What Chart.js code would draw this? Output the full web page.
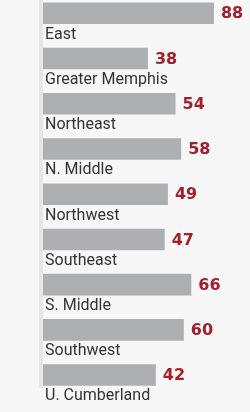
<!DOCTYPE html>
<html lang="en">
<head>
    <meta charset="UTF-8">
    <title>Regions</title>
    <script src="https://cdn.jsdelivr.net/npm/chart.js@4.4.0/dist/chart.umd.min.js"></script>
    <style>
        body {
            margin: 0;
            background-color: #f7f7f7;
        }
        .chart-container {
            width: 250px;
            height: 412px;
            position: relative;
        }
    </style>
</head>
<body>
    <div class="chart-container">
        <canvas id="chart"></canvas>
    </div>

    <script>
        // Data
        const regions = ['East', 'Greater Memphis', 'Northeast', 'N. Middle', 'Northwest',
                         'Southeast', 'S. Middle', 'Southwest', 'U. Cumberland'];
        const counts = [88, 38, 54, 58, 49, 47, 66, 60, 42];
        const axisMin = 10;
        const axisMax = 100;

        const BAR_COLOR = '#aeafb3';
        const VALUE_COLOR = '#a3202b';
        const LABEL_COLOR = '#333333';

        // light grey strip down the left edge
        const stripPlugin = {
            id: 'strip',
            beforeDatasetsDraw(chart) {
                const { ctx, chartArea } = chart;
                const bars = chart.getDatasetMeta(0).data;
                const last = bars[bars.length - 1];
                const bottom = last.y + last.height / 2 + 2;
                ctx.save();
                ctx.fillStyle = '#e6e6e6';
                ctx.fillRect(chartArea.left - 4, 0, 4, bottom);
                ctx.restore();
            }
        };

        // numbers at the end of each bar
        const valuePlugin = {
            id: 'values',
            afterDatasetsDraw(chart) {
                const { ctx } = chart;
                const meta = chart.getDatasetMeta(0);
                ctx.save();
                ctx.font = 'bold 16px "DejaVu Sans"';
                ctx.fillStyle = VALUE_COLOR;
                ctx.textAlign = 'left';
                ctx.textBaseline = 'middle';
                meta.data.forEach((bar, i) => {
                    ctx.fillText(String(counts[i]), bar.x + 7, bar.y + 1);
                });
                ctx.restore();
            }
        };

        new Chart(document.getElementById('chart'), {
            type: 'bar',
            data: {
                labels: regions,
                datasets: [
                    {
                        data: counts,
                        backgroundColor: BAR_COLOR,
                        categoryPercentage: 1,
                        barPercentage: 0.953
                    },
                    {
                        // empty slot so the label sits under the bar
                        data: [],
                        categoryPercentage: 1,
                        barPercentage: 0.953
                    }
                ]
            },
            options: {
                indexAxis: 'y',
                responsive: true,
                maintainAspectRatio: false,
                animation: false,
                layout: {
                    padding: { top: 2, bottom: 3, right: 26, left: 0 }
                },
                plugins: {
                    legend: { display: false },
                    tooltip: { enabled: false }
                },
                scales: {
                    x: {
                        type: 'logarithmic',
                        min: axisMin,
                        max: axisMax,
                        display: false
                    },
                    y: {
                        grid: { display: false },
                        border: { display: false },
                        afterFit(scale) {
                            scale.width = 43;
                            scale.paddingTop = 0;
                            scale.paddingBottom = 0;
                        },
                        ticks: {
                            mirror: true,
                            padding: 2,
                            labelOffset: 10,
                            autoSkip: false,
                            color: LABEL_COLOR,
                            font: { family: 'Roboto', size: 16 }
                        }
                    }
                }
            },
            plugins: [stripPlugin, valuePlugin]
        });
    </script>
</body>
</html>
